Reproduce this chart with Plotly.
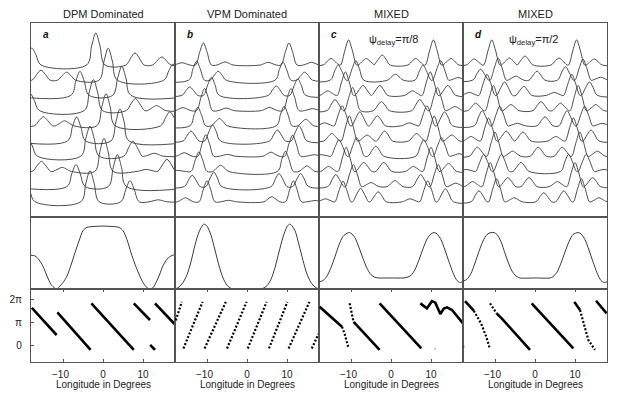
import plotly.graph_objects as go
from plotly.subplots import make_subplots
import math

titles = ["DPM Dominated", "VPM Dominated", "MIXED", "MIXED"]
letters = ["a", "b", "c", "d"]
delay_notes = [None, None, "ψ<sub>delay</sub>=π/8", "ψ<sub>delay</sub>=π/2"]
long_ticks = [-10, 0, 10]
long_labels = ["−10\u2002", "0", "10"]

# single pulses, top to bottom: [longitude (deg), peak height above its baseline]
a_pulses = [
    [[-17.8, 17], [-1.8, 32], [8.0, 12], [14.7, 8]],
    [[-15.5, 10], [-9.1, 8], [1.3, 32], [17.5, 16]],
    [[-5.75, 24], [4.7, 29]],
    [[-18.2, 17], [-2.4, 31], [8.1, 12], [13.4, 5]],
    [[-14.9, 9], [-9.6, 5], [0.75, 32], [16.7, 14]],
    [[-6.6, 24], [4.25, 32]],
    [[-18.7, 17], [-3.25, 30], [7.5, 15], [12.8, 3]],
    [[-15.4, 10], [-10.2, 4], [0.25, 33], [10.8, 2], [16.0, 12]],
    [[-6.75, 22], [3.6, 32]],
    [[-19.3, 17], [-3.25, 31], [6.75, 21], [13.8, 2]],
]
b_pulses = [
    [[-16.3, 2.3], [-10.9, 22], [-5.5, 3.1], [5.3, 2.7], [10.5, 22], [16.1, 2.7]],
    [[-12.6, 19], [-7.2, 9], [9.0, 18], [14.4, 8]],
    [[-14.3, 8.5], [-8.9, 18], [7.3, 9.5], [12.7, 16.5]],
    [[-16.0, 3], [-10.6, 22], [-5.2, 2.5], [5.6, 3.2], [11.0, 22], [16.4, 2]],
    [[-12.3, 18.5], [-6.9, 7.3], [9.3, 19.5], [14.7, 6.5]],
    [[-14.0, 10], [-8.6, 16], [7.6, 11], [13.0, 15]],
    [[-15.7, 3.5], [-10.3, 21.5], [-4.9, 1.8], [6.0, 4], [11.4, 21], [16.8, 1.5]],
    [[-17.4, 1], [-12.0, 19.5], [-6.6, 6.2], [9.6, 20], [15.0, 5.5]],
    [[-13.7, 11.3], [-8.3, 14.5], [8.0, 13], [13.4, 13]],
    [[-15.4, 4], [-10.0, 21], [-4.6, 1.5], [6.2, 5], [11.6, 21], [17.0, 1.3]],
]
c_pulses = [
    [[-15.0, 6.5], [-10.6, 25], [-6.2, 6.5], [-2.2, 10], [6.2, 6.5], [10.6, 25], [15.0, 6.5]],
    [[-13.2, 15], [-8.8, 19.5], [1.1, 6], [8.0, 15], [12.4, 19.5], [16.8, 2.7]],
    [[-15.8, 4.5], [-11.4, 23.5], [-7.0, 10], [-2.8, 10], [5.4, 4.5], [9.8, 23.5], [14.2, 10]],
    [[-14.0, 11], [-9.6, 23], [-2.4, 9], [7.2, 11], [11.6, 23], [16.0, 4]],
    [[-16.6, 3], [-12.2, 20], [-7.8, 14], [-3.4, 10], [4.6, 3], [9.0, 20], [13.4, 14]],
    [[-14.8, 7.5], [-10.4, 25], [-6.0, 6], [-1.6, 10], [6.4, 7.5], [10.8, 25], [15.2, 6]],
    [[-17.4, 1.5], [-13.0, 16.5], [-8.6, 18.5], [-3.8, 10], [8.2, 16.5], [12.6, 18.5], [17.0, 2.5]],
    [[-15.6, 5], [-11.2, 24], [-6.8, 9], [-1.8, 9], [5.6, 5], [10.0, 24], [14.4, 8]],
    [[-13.8, 12], [-9.4, 22], [-5.0, 4], [1.0, 6], [7.4, 12], [11.8, 22], [16.2, 3.5]],
    [[-16.4, 3], [-12.0, 20.5], [-7.6, 13.5], [-3.2, 10], [4.8, 3], [9.2, 21], [13.6, 13]],
]
d_pulses = [
    [[-15.2, 6], [-10.8, 25], [-6.4, 7], [-2.5, 9], [6.0, 7], [10.4, 25], [14.8, 6]],
    [[-13.6, 11], [-9.2, 22], [-4.8, 4], [0.5, 9], [7.6, 13.5], [12.0, 21], [16.4, 3]],
    [[-16.4, 3], [-12.0, 21], [-7.6, 13.5], [-2.8, 9], [4.8, 3], [9.2, 21], [13.6, 13.5]],
    [[-14.8, 7.5], [-10.4, 25], [-6.0, 6], [1.5, 9], [6.4, 7.5], [10.8, 25], [15.2, 6]],
    [[-13.2, 15], [-8.8, 19.5], [-4.4, 2.5], [2.5, 9], [8.0, 15], [12.4, 19.5], [16.8, 2.5]],
    [[-16.0, 4.5], [-11.6, 23], [-7.2, 10], [-3.0, 9], [5.2, 4.5], [9.6, 23], [14.0, 11]],
    [[-14.4, 9], [-10.0, 24], [-5.6, 5], [0.8, 9], [6.8, 9], [11.2, 24], [15.6, 5]],
    [[-17.2, 2], [-12.8, 17], [-8.4, 17], [-3.5, 9], [8.4, 17], [12.8, 17], [17.2, 2]],
    [[-15.6, 5], [-11.2, 24], [-6.8, 9], [-1.5, 9], [5.6, 5], [10.0, 24], [14.4, 9]],
    [[-14.0, 11], [-9.6, 23], [-5.2, 4], [2.2, 9], [7.2, 11], [11.6, 23], [16.0, 4]],
]

# average profiles (relative intensity)
a_prof_x = [-18, -17, -16, -15, -14, -13, -12, -11.6, -11, -10, -9, -8, -7, -6, -5, -4, -2, 0, 2, 4, 5, 6, 7, 8, 9, 10, 11, 11.75, 12.5, 13, 14, 15, 16, 17, 18]
a_prof_y = [0.52, 0.51, 0.45, 0.35, 0.2, 0.07, 0.01, 0, 0.03, 0.1, 0.2, 0.37, 0.56, 0.74, 0.9, 0.95, 0.965, 0.97, 0.965, 0.95, 0.9, 0.76, 0.56, 0.38, 0.23, 0.1, 0.02, 0, 0.02, 0.07, 0.2, 0.36, 0.46, 0.51, 0.53]
b_prof_x = [-18, -17, -16, -15, -14, -13, -12, -11, -10.7, -10, -9, -8, -7, -6, -5, -4, -3, 0, 3, 4, 5, 6, 7, 8, 9, 10, 10.6, 11, 12, 13, 14, 15, 16, 17, 18]
b_prof_y = [0, 0.03, 0.1, 0.22, 0.42, 0.68, 0.88, 0.99, 1.0, 0.97, 0.83, 0.6, 0.36, 0.17, 0.06, 0.01, 0, 0, 0, 0.01, 0.05, 0.15, 0.33, 0.57, 0.8, 0.96, 1.0, 0.99, 0.9, 0.68, 0.44, 0.23, 0.1, 0.03, 0]
c_prof_x = [-18, -17, -16, -15, -14, -13, -12, -11, -10.4, -10, -9, -8, -7, -6, -5, -4, -3, 0, 3, 4, 5, 6, 7, 8, 9, 10, 10.8, 11.5, 12.5, 13.5, 14.5, 15.5, 16.5, 17.3, 18]
c_prof_y = [0.11, 0.13, 0.2, 0.33, 0.5, 0.68, 0.81, 0.86, 0.87, 0.86, 0.79, 0.64, 0.47, 0.32, 0.22, 0.18, 0.17, 0.17, 0.17, 0.18, 0.21, 0.3, 0.45, 0.62, 0.77, 0.85, 0.87, 0.85, 0.76, 0.6, 0.42, 0.25, 0.13, 0.1, 0.12]
d_prof_x = [-18, -17, -16, -15, -14, -13, -12, -11, -10.25, -9.5, -8.5, -7.5, -6.5, -5.5, -4.5, -3.75, 0, 3.75, 4.5, 5.5, 6.5, 7.5, 8.5, 9.5, 10.8, 11.5, 12.5, 13.5, 14.5, 15.5, 16.5, 17.3, 18]
d_prof_y = [0.12, 0.15, 0.24, 0.4, 0.58, 0.74, 0.84, 0.87, 0.87, 0.84, 0.73, 0.55, 0.38, 0.25, 0.19, 0.17, 0.17, 0.17, 0.19, 0.26, 0.4, 0.57, 0.73, 0.84, 0.87, 0.85, 0.76, 0.6, 0.42, 0.25, 0.13, 0.1, 0.11]

# drift phase (rad); dense = closely packed samples, sparse = separated dots
a_phase_dense = [
    [[-17.8, -11.6], [5.1, 1.42]],
    [[-11.4, -3.1], [4.49, -0.6]],
    [[-2.9, 7.7], [5.7, -0.6]],
    [[7.7, 11.75], [5.7, 3.45]],
    [[11.8, 13.0], [0.1, -0.6]],
    [[13.0, 17.9], [5.7, 2.9]],
]
a_phase_sparse = []
b_phase_dense = []
b_phase_sparse = [
    [[-17.8, -16.3], [3.4, 5.9]],
    [[-15.9, -11.1], [-0.4, 5.9]],
    [[-10.6, -5.3], [-0.4, 5.9]],
    [[-5.0, -0.1], [-0.4, 5.9]],
    [[0.2, 4.9], [-0.4, 5.9]],
    [[5.5, 10.1], [-0.4, 5.9]],
    [[10.4, 15.6], [-0.4, 5.9]],
    [[16.2, 17.9], [-0.4, 1.6]],
]
c_phase_dense = [
    [[-17.85, -12.25], [5.25, 2.54]],
    [[-9.35, -2.85], [3.2, -0.6]],
    [[-2.85, 7.58], [5.7, -0.38]],
    [[7.33, 9.0, 10.25, 11.08, 12.33, 13.2, 14.0, 15.25, 18.0], [5.7, 5.03, 6.0, 5.8, 4.26, 5.0, 5.16, 4.8, 3.0]],
]
c_phase_sparse = [
    [[-12.25, -11.6, -10.6], [2.54, 1.6, -0.4]],
    [[-10.35, -9.35], [5.7, 3.2]],
    [[10.95, 11.05], [-0.45, -0.45]],
]
d_phase_dense = [
    [[-17.5, -15.3], [6.0, 4.7]],
    [[-9.6, -8.33, -1.25], [4.35, 3.68, -0.6]],
    [[-0.83, 9.58], [5.7, -0.38]],
    [[9.83, 11.25], [5.9, 4.8]],
    [[15.25, 17.9], [6.05, 4.35]],
]
d_phase_sparse = [
    [[-17.8, -17.7], [-0.16, -0.16]],
    [[-15.3, -13.5, -12.2, -11.3], [4.7, 3.0, 1.2, -0.4]],
    [[-11.25, -9.6], [5.7, 4.35]],
    [[11.25, 11.67, 13.33, 15.0], [4.8, 3.9, 0.75, -0.6]],
]

pulses = [a_pulses, b_pulses, c_pulses, d_pulses]
profiles = [(a_prof_x, a_prof_y), (b_prof_x, b_prof_y), (c_prof_x, c_prof_y), (d_prof_x, d_prof_y)]
phase_dense = [a_phase_dense, b_phase_dense, c_phase_dense, d_phase_dense]
phase_sparse = [a_phase_sparse, b_phase_sparse, c_phase_sparse, d_phase_sparse]
peak_halfwidth = [2.3, 2.0, 2.0, 2.0]
pulse_step = 15.2
note_x = [None, None, 0.517, 0.49]

FONT = "Liberation Sans, Arial, sans-serif"
INK = "#383838"
FRAME = "#555555"

fig = make_subplots(rows=3, cols=4, horizontal_spacing=0, vertical_spacing=0,
                    row_heights=[194, 72, 73])


def ax(letter, n):
    return letter if n == 1 else f"{letter}{n}"


def pulse_line(peaks, hw, base):
    # each read-off peak drawn as foot / shoulder / top / shoulder / foot, smoothed by the spline
    pts = [(-24, 0), (24, 0)]
    for c, h in peaks:
        pts += [(c - hw, 0), (c - 0.45 * hw, 0.6 * h), (c, h),
                (c + 0.45 * hw, 0.6 * h), (c + hw, 0)]
    pts.sort()
    return [p[0] for p in pts], [base + p[1] for p in pts]


for col in range(1, 5):
    stack = pulses[col - 1]
    n = len(stack)
    for k, peaks in enumerate(stack):
        xs, ys = pulse_line(peaks, peak_halfwidth[col - 1], pulse_step * (n - k))
        fig.add_trace(go.Scatter(x=xs, y=ys, mode="lines",
                                 line=dict(color=INK, width=0.9, shape="spline", smoothing=1.0),
                                 hoverinfo="skip"), row=1, col=col)
    px_, py_ = profiles[col - 1]
    fig.add_trace(go.Scatter(x=px_, y=py_, mode="lines",
                             line=dict(color=INK, width=1, shape="spline", smoothing=0.8),
                             hoverinfo="skip"), row=2, col=col)
    for seg in phase_dense[col - 1]:
        fig.add_trace(go.Scatter(x=seg[0], y=seg[1], mode="lines",
                                 line=dict(color="black", width=2.6),
                                 hoverinfo="skip"), row=3, col=col)
    for seg in phase_sparse[col - 1]:
        fig.add_trace(go.Scatter(x=seg[0], y=seg[1], mode="lines",
                                 line=dict(color="black", width=2.2, dash="2px,1.8px"),
                                 hoverinfo="skip"), row=3, col=col)

axis_common = dict(showline=True, mirror=True, linecolor=FRAME, linewidth=1.2,
                   showgrid=False, zeroline=False, automargin=False)
for r in range(1, 4):
    for c in range(1, 5):
        fig.update_xaxes(range=[-18, 18], row=r, col=c, **axis_common)
        if r == 3:
            fig.update_xaxes(tickvals=long_ticks, ticktext=long_labels, ticks="inside", ticklen=3,
                             tickcolor=FRAME, mirror="ticks", showticklabels=True,
                             ticklabelstandoff=3,
                             tickfont=dict(family=FONT, size=10, color="#222"),
                             row=r, col=c)
        else:
            fig.update_xaxes(showticklabels=False, ticks="", row=r, col=c)

for c in range(1, 5):
    fig.update_yaxes(range=[0, 194], showticklabels=False, ticks="", row=1, col=c, **axis_common)
    fig.update_yaxes(range=[0, 1.11], showticklabels=False, ticks="", row=2, col=c, **axis_common)
    fig.update_yaxes(range=[-2.23, 7.64], row=3, col=c, **axis_common)
    if c == 1:
        fig.update_yaxes(tickvals=[0, math.pi, 2 * math.pi], ticktext=["0", "π", "2π"],
                         ticks="inside", ticklen=3, tickcolor=FRAME, ticklabelstandoff=6,
                         tickfont=dict(family=FONT, size=10, color="#222"), row=3, col=c)
    else:
        fig.update_yaxes(showticklabels=False, ticks="", row=3, col=c)

for i in range(4):
    fig.add_annotation(text=titles[i], xref=ax("x", i + 1) + " domain", yref="paper",
                       x=0.5, y=1, yshift=9, showarrow=False,
                       font=dict(family=FONT, size=11, color="#222"),
                       xanchor="center", yanchor="middle")
    fig.add_annotation(text=f"<b><i>{letters[i]}</i></b>", xref=ax("x", i + 1) + " domain",
                       yref=ax("y", i + 1) + " domain", x=0.105, y=0.943, showarrow=False,
                       xanchor="center", yanchor="middle",
                       font=dict(family=FONT, size=10, color="#111"))
    if delay_notes[i]:
        fig.add_annotation(text=delay_notes[i], xref=ax("x", i + 1) + " domain",
                           yref=ax("y", i + 1) + " domain", x=note_x[i], y=0.912,
                           showarrow=False, xanchor="center", yanchor="middle",
                           font=dict(family=FONT, size=11, color="#222"))
    fig.add_annotation(text="Longitude in Degrees", xref=ax("x", i + 9) + " domain", yref="paper",
                       x=0.5, y=0, yshift=-22, showarrow=False,
                       xanchor="center", yanchor="middle",
                       font=dict(family=FONT, size=10, color="#222"))

# the page body keeps its 8px default margin, so the figure is 8px smaller each way
fig.update_layout(width=610, height=386, margin=dict(l=23, r=11, t=15, b=32),
                  paper_bgcolor="white", plot_bgcolor="white", showlegend=False)

fig.write_html("out.html")
